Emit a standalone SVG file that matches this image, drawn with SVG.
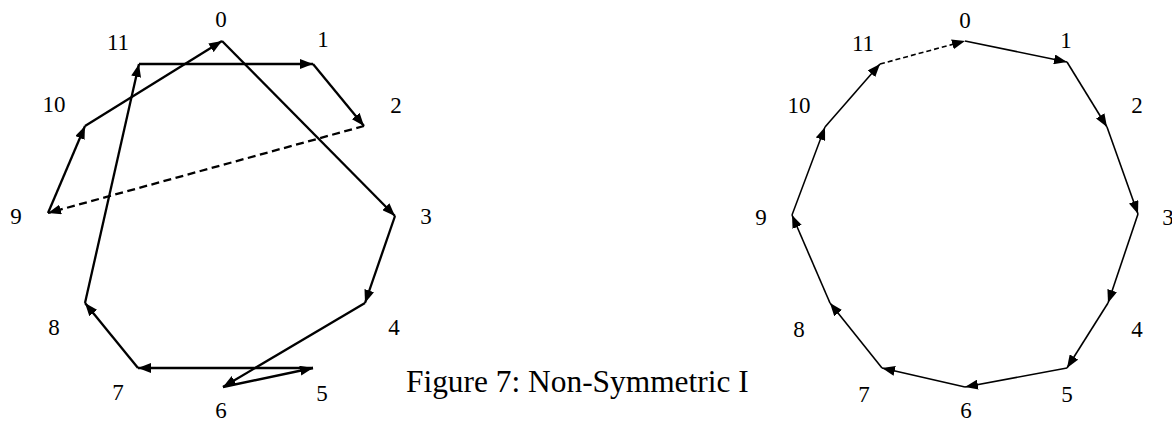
<svg xmlns="http://www.w3.org/2000/svg" width="1172" height="421" viewBox="0 0 1172 421">
<defs>
<marker id="ah" markerUnits="userSpaceOnUse" markerWidth="14" markerHeight="10" refX="13" refY="5" orient="auto" viewBox="0 0 14 10">
<path d="M0,0 L13,5 L0,10 Z" fill="#000"/>
</marker>
<clipPath id="capclip"><rect x="0" y="340" width="751" height="81"/></clipPath>
<style>
.lbl{font-family:"Liberation Serif","Times New Roman",serif;font-size:23px;fill:#000;text-anchor:middle}
.cap{font-family:"Liberation Serif","Times New Roman",serif;font-size:31.4px;fill:#000}
.eL{stroke:#000;stroke-width:2.3;fill:none;marker-end:url(#ah)}
.eR{stroke:#000;stroke-width:1.6;fill:none;marker-end:url(#ah)}
.dL{stroke-dasharray:8 4.5}
.dR{stroke-dasharray:5 3}
</style>
</defs>
<rect width="1172" height="421" fill="#fff"/>

<g id="connectors-left">
<line class="eL" x1="222" y1="41" x2="395" y2="216"/>
<line class="eL" x1="395" y1="216" x2="365" y2="303"/>
<line class="eL" x1="365" y1="303" x2="223" y2="387"/>
<line class="eL" x1="223" y1="387" x2="313" y2="368"/>
<line class="eL" x1="313" y1="368" x2="138" y2="368"/>
<line class="eL" x1="138" y1="368" x2="85" y2="303"/>
<line class="eL" x1="85" y1="303" x2="139" y2="64"/>
<line class="eL" x1="139" y1="64" x2="313" y2="64"/>
<line class="eL" x1="313" y1="64" x2="364" y2="126"/>
<line class="eL dL" x1="364" y1="126" x2="48" y2="213"/>
<line class="eL" x1="48" y1="213" x2="85" y2="126"/>
<line class="eL" x1="85" y1="126" x2="222" y2="41"/>
</g>

<g id="connectors-right">
<line class="eR" x1="965" y1="41" x2="1067" y2="62"/>
<line class="eR" x1="1067" y1="62" x2="1107" y2="127"/>
<line class="eR" x1="1107" y1="127" x2="1138" y2="214"/>
<line class="eR" x1="1138" y1="214" x2="1108" y2="303"/>
<line class="eR" x1="1108" y1="303" x2="1067" y2="368"/>
<line class="eR" x1="1067" y1="368" x2="965" y2="387"/>
<line class="eR" x1="965" y1="387" x2="882" y2="368"/>
<line class="eR" x1="882" y1="368" x2="830" y2="303"/>
<line class="eR" x1="830" y1="303" x2="792" y2="215"/>
<line class="eR" x1="792" y1="215" x2="825" y2="127"/>
<line class="eR" x1="825" y1="127" x2="880" y2="64"/>
<line class="eR dR" x1="880" y1="64" x2="965" y2="41"/>
</g>

<g id="left-nodes">
<g id="L0"><text class="lbl" x="221" y="27">0</text></g>
<g id="L1"><text class="lbl" x="323" y="47">1</text></g>
<g id="L2"><text class="lbl" x="396" y="113">2</text></g>
<g id="L3"><text class="lbl" x="426" y="224">3</text></g>
<g id="L4"><text class="lbl" x="394" y="335">4</text></g>
<g id="L5"><text class="lbl" x="322" y="401">5</text></g>
<g id="L6"><text class="lbl" x="221" y="418">6</text></g>
<g id="L7"><text class="lbl" x="118" y="400">7</text></g>
<g id="L8"><text class="lbl" x="54" y="335">8</text></g>
<g id="L9"><text class="lbl" x="16" y="224">9</text></g>
<g id="L10"><text class="lbl" x="54" y="112">10</text></g>
<g id="L11"><text class="lbl" x="118" y="50">11</text></g>
</g>

<g id="right-nodes">
<g id="R0"><text class="lbl" x="965" y="28">0</text></g>
<g id="R1"><text class="lbl" x="1066" y="48">1</text></g>
<g id="R2"><text class="lbl" x="1137" y="113">2</text></g>
<g id="R3"><text class="lbl" x="1168" y="225">3</text></g>
<g id="R4"><text class="lbl" x="1137" y="337">4</text></g>
<g id="R5"><text class="lbl" x="1067" y="402">5</text></g>
<g id="R6"><text class="lbl" x="966" y="418">6</text></g>
<g id="R7"><text class="lbl" x="864" y="402">7</text></g>
<g id="R8"><text class="lbl" x="799" y="337">8</text></g>
<g id="R9"><text class="lbl" x="761" y="225">9</text></g>
<g id="R10"><text class="lbl" x="799" y="113">10</text></g>
<g id="R11"><text class="lbl" x="863" y="51">11</text></g>
</g>

<g clip-path="url(#capclip)">
<text class="cap" x="406" y="392">Figure 7: Non-Symmetric I</text>
</g>
</svg>
